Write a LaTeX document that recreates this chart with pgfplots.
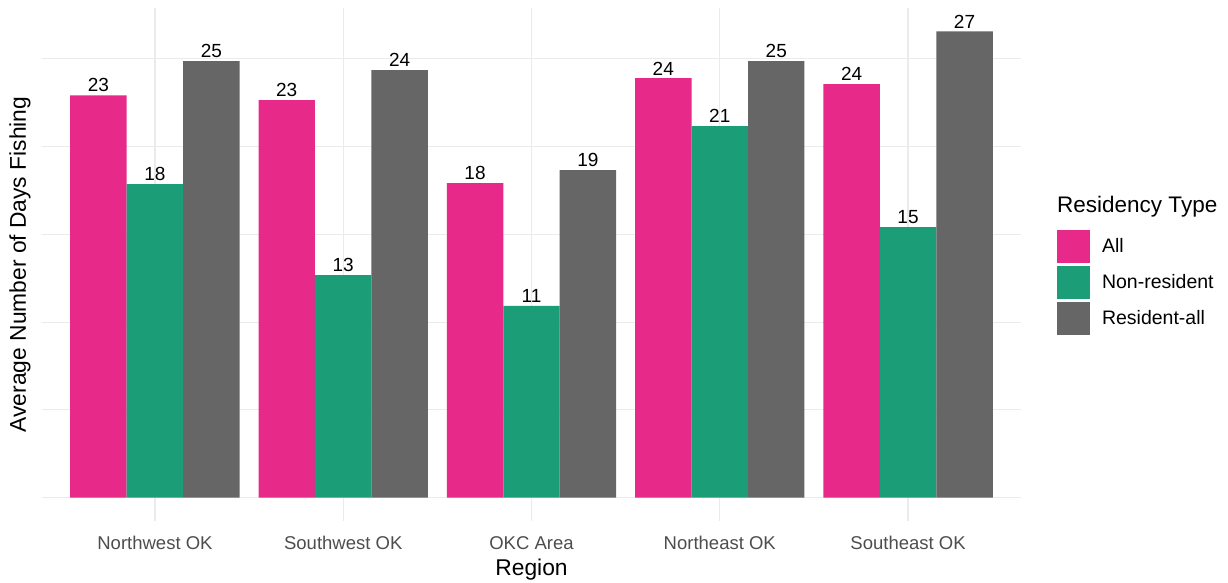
\documentclass[border=0pt]{standalone}
\usepackage{pgfplots}
\pgfplotsset{compat=1.18}
\usepackage{fontspec}
\setmainfont{Liberation Sans}
\definecolor{allc}{HTML}{E7298A}
\definecolor{nrc}{HTML}{1B9E77}
\definecolor{resc}{HTML}{666666}
\definecolor{gridc}{HTML}{EBEBEB}
\definecolor{tickc}{HTML}{4D4D4D}
\pgfplotstableread{
x all nr res
0 22.92 17.86 24.86
1 22.64 12.68 24.35
2 17.92 10.92 18.66
3 23.89 21.16 24.86
4 23.55 15.41 26.56
}\datatable
\begin{document}
\begin{tikzpicture}
\begin{axis}[
  name=ax,
  scale only axis,
  width=979pt, height=513pt,
  xmin=-0.6, xmax=4.6,
  ymin=-1.328, ymax=27.89,
  ybar, bar width=0.3,
  axis line style={draw=none},
  tick style={draw=none},
  major tick length=0pt,
  xtick={0,1,2,3,4},
  xticklabels={Northwest OK,Southwest OK,OKC Area,Northeast OK,Southeast OK},
  xticklabel style={font=\fontsize{18.5}{20}\selectfont, text=tickc, inner sep=0pt, anchor=north, yshift=-15pt},
  ytick={0,5,10,15,20,25},
  yticklabels={},
  grid=major,
  major grid style={draw=gridc, line width=1.1pt},
  xlabel={Region},
  ylabel={Average Number of Days Fishing},
  xlabel style={font=\fontsize{22.8}{24}\selectfont, at={([yshift=-49pt]rel axis cs:0.5,0)}, anchor=center, inner sep=0pt},
  ylabel style={font=\fontsize{22.8}{24}\selectfont, at={([xshift=-22pt]rel axis cs:0,0.5)}, anchor=center, rotate=0, inner sep=0pt},
  /pgf/number format/assume math mode=true,
  nodes near coords,
  point meta=y,
  nodes near coords style={font=\fontsize{19}{20}\selectfont, anchor=south, inner sep=0pt, yshift=3pt, /pgf/number format/.cd, fixed, precision=0},
  every axis plot post/.append style={legend image code/.code={\fill[##1] (0pt,-16.5pt) rectangle (33pt,16.5pt);}},
  legend style={at={([xshift=36pt]rel axis cs:1,0.5672)}, anchor=north west, draw=none, fill=none, inner sep=0pt, outer sep=0pt, row sep=3pt, column sep=12pt, nodes={inner sep=0pt, anchor=west, font=\fontsize{19.5}{21}\selectfont}},
  legend cell align=left,
]
\addplot[fill=allc, draw=none, bar shift=-0.3] table[x=x, y=all] {\datatable};
\addplot[fill=nrc, draw=none, bar shift=0] table[x=x, y=nr] {\datatable};
\addplot[fill=resc, draw=none, bar shift=0.3] table[x=x, y=res] {\datatable};
\legend{All, Non-resident, Resident-all}
\end{axis}
\node[anchor=west, inner sep=0pt, font=\fontsize{22.5}{24}\selectfont] at ([xshift=36pt,yshift=314pt]ax.south east) {Residency Type};
\pgfresetboundingbox
\path[use as bounding box] ([xshift=-42pt,yshift=-61pt]ax.south west) rectangle ([xshift=207pt,yshift=8pt]ax.north east);
\end{tikzpicture}
\end{document}
